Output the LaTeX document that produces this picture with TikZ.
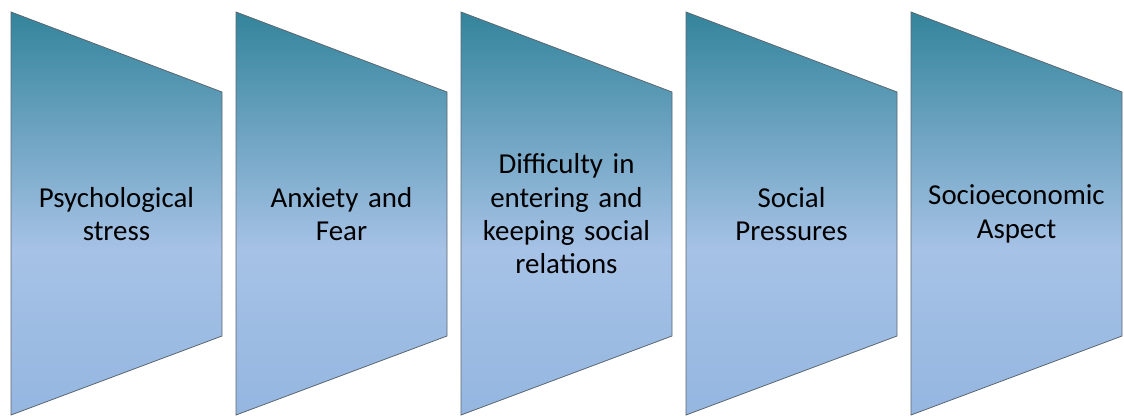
\documentclass[tikz,border=0pt]{standalone}
\usepackage{fontspec}
\setmainfont{Carlito}
\definecolor{topc}{HTML}{33849B}
\definecolor{midc}{HTML}{A6C2E6}
\definecolor{botc}{HTML}{94B6E0}
\definecolor{edgec}{HTML}{5A6670}
\pgfdeclareverticalshading{trapshade}{100bp}{color(0bp)=(botc); color(25bp)=(botc); color(45.5bp)=(midc); color(75bp)=(topc); color(100bp)=(topc)}
\tikzset{
  trapbox/.style={shading=trapshade, draw=edgec, line width=0.8bp},
  trapl/.style={font=\fontsize{29}{33.5}\selectfont, text=black, align=center, text width=200bp, inner sep=0pt}
}
\begin{document}
\begin{tikzpicture}[x=1bp,y=-1bp]
\useasboundingbox (0,0) rectangle (1124,416);
\foreach \i/\txt in {0/{Psychological\\stress},1/{Anxiety and\\Fear},2/{Difficulty in\\entering and\\keeping social\\relations},3/{Social\\Pressures},4/{Socioeconomic\\Aspect}}{
  \pgfmathsetmacro{\xl}{11+225*\i}
  \pgfmathsetmacro{\xr}{\xl+211}
  \path[trapbox] (\xl,12) -- (\xr,92) -- (\xr,336) -- (\xl,415) -- cycle;
  \node[trapl] (t\i) at (\xl+105.5,214) {\txt};
}
\end{tikzpicture}
\end{document}
